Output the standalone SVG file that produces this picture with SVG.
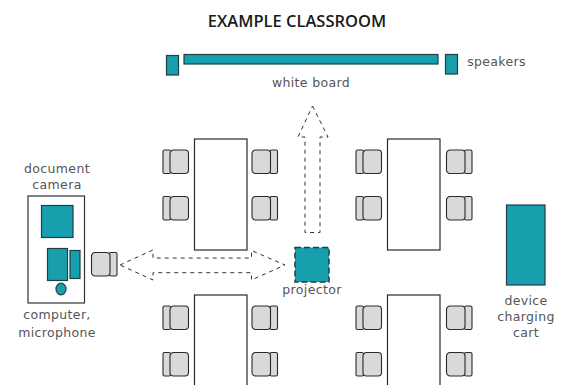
<svg xmlns="http://www.w3.org/2000/svg" xmlns:xlink="http://www.w3.org/1999/xlink" width="563" height="385" viewBox="0 0 563 385">
<style>
text{font-family:"DejaVu Sans","Liberation Sans",sans-serif;font-size:12.500px;letter-spacing:.35px;fill:#555;text-anchor:middle}
.title{font-family:"Open Sans","Liberation Sans",sans-serif;font-size:16.500px;letter-spacing:0;font-weight:600;fill:#1a1a1a}
.teal{fill:#179fad;stroke:#1f3f44;stroke-width:1.2}
.table{fill:#fff;stroke:#2a2a2a;stroke-width:1.2}
.c{fill:#d9d9d9;stroke:#2a2a2a;stroke-width:1.1}
.dash{fill:none;stroke:#333;stroke-width:1;stroke-dasharray:4 4}
</style>
<defs>
<g id="chairL"><rect class="c" x="0" y="0" width="7.5" height="23.5" rx="1.5"/><rect class="c" x="7" y="0" width="18.5" height="23.5" rx="3.5"/></g>
<g id="chairR"><rect class="c" x="18" y="0" width="7.5" height="23.5" rx="1.5"/><rect class="c" x="0" y="0" width="18.5" height="23.5" rx="3.5"/></g>
</defs>
<text class="title" x="297" y="26.500">EXAMPLE CLASSROOM</text>
<g id="whiteboard"><rect class="teal" x="184" y="54.500" width="254" height="9.500"/><text x="311" y="87">white board</text></g>
<g id="speakers"><rect class="teal" x="166.500" y="55.500" width="12" height="19.500"/><rect class="teal" x="445.500" y="54.500" width="12" height="19.500"/><text x="496.500" y="66">speakers</text></g>
<g id="table-1"><rect class="table" x="194.500" y="139" width="52.500" height="111"/></g>
<g id="table-2"><rect class="table" x="387.500" y="139" width="52.500" height="111"/></g>
<g id="table-3"><rect class="table" x="194.500" y="295" width="52.500" height="95"/></g>
<g id="table-4"><rect class="table" x="387.500" y="295" width="52.500" height="95"/></g>
<g id="chairs">
<use xlink:href="#chairL" x="163" y="150"/><use xlink:href="#chairL" x="163" y="196.500"/>
<use xlink:href="#chairR" x="252" y="150"/><use xlink:href="#chairR" x="252" y="196.500"/>
<use xlink:href="#chairL" x="356" y="150"/><use xlink:href="#chairL" x="356" y="196.500"/>
<use xlink:href="#chairR" x="446.500" y="150"/><use xlink:href="#chairR" x="446.500" y="196.500"/>
<use xlink:href="#chairL" x="163" y="306"/><use xlink:href="#chairL" x="163" y="352.500"/>
<use xlink:href="#chairR" x="252" y="306"/><use xlink:href="#chairR" x="252" y="352.500"/>
<use xlink:href="#chairL" x="356" y="306"/><use xlink:href="#chairL" x="356" y="352.500"/>
<use xlink:href="#chairR" x="446.500" y="306"/><use xlink:href="#chairR" x="446.500" y="352.500"/>
<use xlink:href="#chairR" x="91.500" y="252.500"/>
</g>
<g id="lectern">
<text x="57" y="173">document</text><text x="57" y="188.500">camera</text>
<rect x="28" y="196" width="56.500" height="107" fill="#fff" stroke="#333" stroke-width="1.200"/>
<rect class="teal" x="41.500" y="205.500" width="31.500" height="32"/>
<rect class="teal" x="47.500" y="248.500" width="20" height="32"/>
<rect class="teal" x="70" y="250.500" width="10" height="28"/>
<ellipse class="teal" cx="61" cy="289" rx="5" ry="5.800"/>
<text x="57" y="319">computer,</text><text x="57" y="336.500">microphone</text>
</g>
<g id="projector"><rect x="295" y="247.500" width="34" height="34.500" fill="#179fad" stroke="#1f3f44" stroke-width="1.500" stroke-dasharray="6 3"/><text x="312" y="294">projector</text></g>
<g id="cart"><rect class="teal" x="506.500" y="205" width="38.500" height="80"/><text x="526" y="305">device</text><text x="526" y="321">charging</text><text x="526" y="337">cart</text></g>
<g id="connectors">
<path class="dash" d="M312.500 106L328 137H320V232.500H305V137H298Z"/>
<path class="dash" d="M120 265L153 250V258H251.500V250.500L285 265L251.500 280V272.700H153V280Z"/>
</g>
</svg>
